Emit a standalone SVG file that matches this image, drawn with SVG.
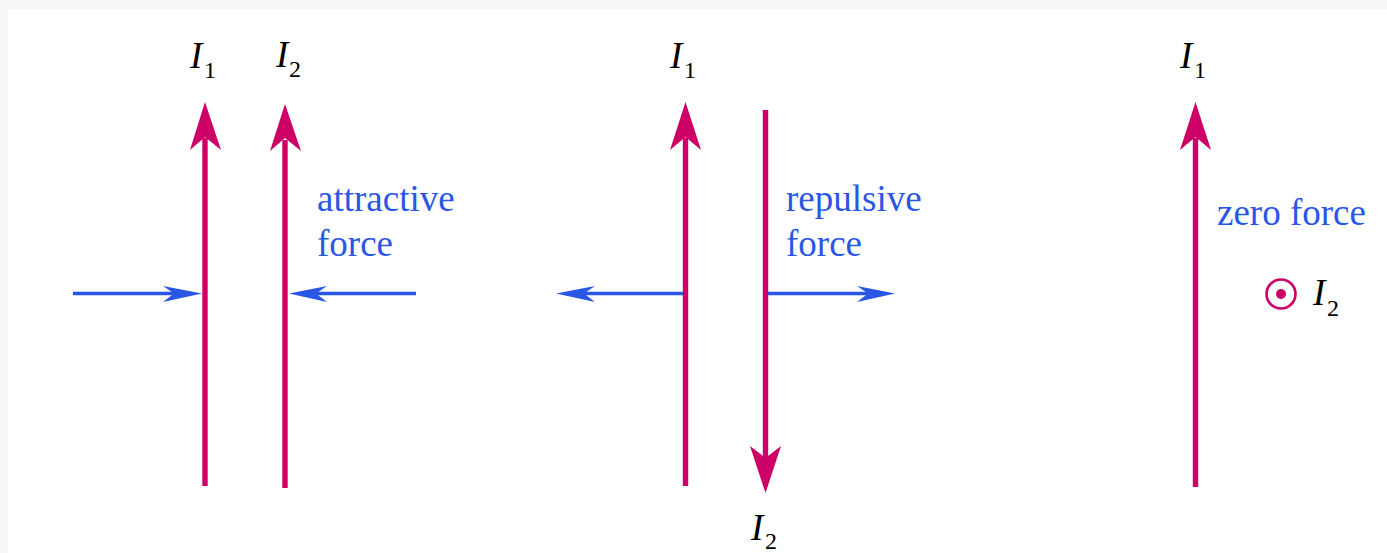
<svg xmlns="http://www.w3.org/2000/svg" width="1387" height="553" viewBox="0 0 1387 553">
<style>
.wire{stroke:#cc0066;stroke-width:5.4;fill:none}
.head{fill:#cc0066}
.force{stroke:#2a56e6;stroke-width:3.4;fill:none}
.fhead{fill:#2a56e6}
.lbl{font-family:"Liberation Serif","Times New Roman",serif;font-size:37px;fill:#2a56e6}
.cur{font-family:"Liberation Serif","Times New Roman",serif;font-style:italic;font-size:37px;fill:#000}
.sub{font-family:"Liberation Serif","Times New Roman",serif;font-size:24px;fill:#000}
</style>
<rect width="1387" height="553" fill="#fff"/>
<rect x="0" y="0" width="1387" height="9" fill="#f8f8f8"/>
<rect x="0" y="0" width="8" height="553" fill="#f8f8f8"/>
<g id="connectors">
  <g id="p1-wire1">
    <line class="wire" x1="205" y1="486" x2="205" y2="138"/>
    <path class="head" d="M205,102 L221,150 L205,137 L190,150 Z"/>
  </g>
  <g id="p1-wire2">
    <line class="wire" x1="285" y1="488" x2="285" y2="140"/>
    <path class="head" d="M285,104 L301,151 L285,138 L270,151 Z"/>
  </g>
  <g id="p1-force-left">
    <line class="force" x1="73" y1="293.5" x2="175" y2="293.5"/>
    <path class="fhead" d="M202,293.5 L163,286 L174,293.5 L163,302 Z"/>
  </g>
  <g id="p1-force-right">
    <line class="force" x1="416" y1="293.5" x2="316" y2="293.5"/>
    <path class="fhead" d="M289,293.5 L327,286 L316,293.5 L327,302 Z"/>
  </g>
  <g id="p2-wire1">
    <line class="wire" x1="685.5" y1="486" x2="685.5" y2="138"/>
    <path class="head" d="M685.5,102 L701,150 L685.5,137 L670,150 Z"/>
  </g>
  <g id="p2-wire2">
    <line class="wire" x1="765.5" y1="110" x2="765.5" y2="458"/>
    <path class="head" d="M765.5,493 L781,446 L765.5,458 L750,446 Z"/>
  </g>
  <g id="p2-force-left">
    <line class="force" x1="683" y1="293.5" x2="583" y2="293.5"/>
    <path class="fhead" d="M556,293.5 L595,286 L584,293.5 L595,302 Z"/>
  </g>
  <g id="p2-force-right">
    <line class="force" x1="768" y1="293.5" x2="868" y2="293.5"/>
    <path class="fhead" d="M895,293.5 L857,286 L868,293.5 L857,302 Z"/>
  </g>
  <g id="p3-wire1">
    <line class="wire" x1="1195.5" y1="487" x2="1195.5" y2="138"/>
    <path class="head" d="M1195.5,102 L1211,150 L1195.5,137 L1180,150 Z"/>
  </g>
</g>
<g id="p3-wire2-dot">
  <circle cx="1281" cy="294" r="14.5" fill="none" stroke="#cc0066" stroke-width="2.6"/>
  <circle cx="1281" cy="294" r="5" fill="#cc0066"/>
</g>
<g id="labels">
  <g id="p1-I1"><text class="cur" x="190" y="68">I</text><text class="sub" x="204" y="78">1</text></g>
  <g id="p1-I2"><text class="cur" x="276" y="67">I</text><text class="sub" x="289" y="77">2</text></g>
  <g id="p1-text"><text class="lbl" x="317" y="211">attractive</text><text class="lbl" x="317" y="256">force</text></g>
  <g id="p2-I1"><text class="cur" x="670" y="68">I</text><text class="sub" x="684" y="78">1</text></g>
  <g id="p2-I2"><text class="cur" x="751" y="540">I</text><text class="sub" x="765" y="549">2</text></g>
  <g id="p2-text"><text class="lbl" x="786" y="211">repulsive</text><text class="lbl" x="786" y="256">force</text></g>
  <g id="p3-I1"><text class="cur" x="1180" y="68">I</text><text class="sub" x="1194" y="78">1</text></g>
  <g id="p3-text"><text class="lbl" x="1217" y="225">zero force</text></g>
  <g id="p3-I2"><text class="cur" x="1313" y="305">I</text><text class="sub" x="1327" y="316">2</text></g>
</g>
</svg>
